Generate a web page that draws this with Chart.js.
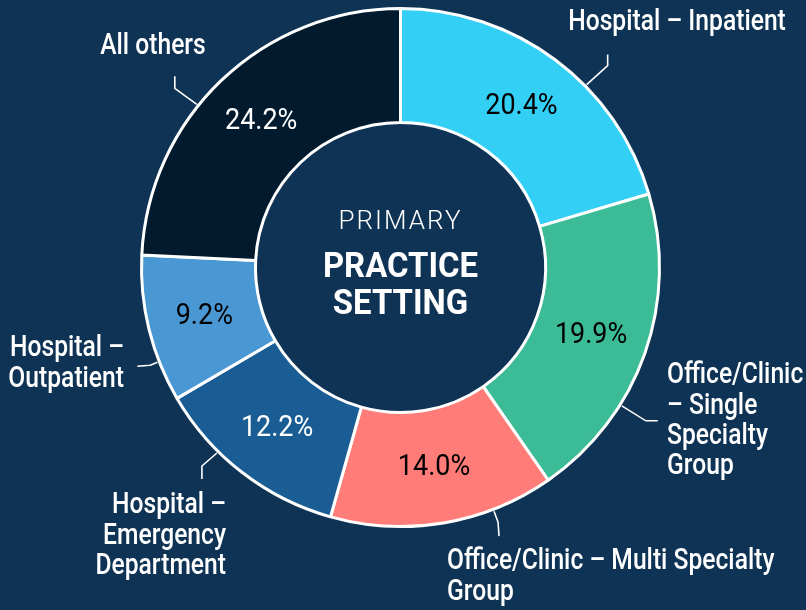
<!DOCTYPE html>
<html>
<head>
<meta charset="utf-8">
<script src="https://cdn.jsdelivr.net/npm/chart.js@4"></script>
<style>
  html, body { margin: 0; padding: 0; background: #0e3354; }
  #wrap { width: 806px; height: 610px; }
</style>
</head>
<body>
<div id="wrap"><canvas id="settingChart" width="806" height="610"></canvas></div>
<script>
// data
const categories = [
  'Hospital – Inpatient',
  'Office/Clinic – Single Specialty Group',
  'Office/Clinic – Multi Specialty Group',
  'Hospital – Emergency Department',
  'Hospital – Outpatient',
  'All others'
];
const shares = [20.4, 19.9, 14.0, 12.2, 9.2, 24.2];
const labelLines = [
  ['Hospital – Inpatient'],
  ['Office/Clinic', '– Single', 'Specialty', 'Group'],
  ['Office/Clinic – Multi Specialty', 'Group'],
  ['Hospital –', 'Emergency', 'Department'],
  ['Hospital –', 'Outpatient'],
  ['All others']
];
const sliceColors = ['#33cff5', '#3bbc96', '#ff7c79', '#1a5d95', '#4a98d3', '#021a2e'];
const valueColors = ['#000', '#000', '#000', '#fff', '#000', '#fff'];

// where each outside label sits (leader: start angle from top, then relative steps)
const callouts = [
  { angle: 45.5, steps: [[21, -19], [0, -11]], tx: 677, ty: 22, align: 'center' },
  { angle: 122, steps: [[24, 15], [12, 0]], tx: 667, ty: 375, align: 'left' },
  { angle: 159, steps: [[4, 11], [1, 14]], tx: 447, ty: 561, align: 'left' },
  { angle: 224.7, steps: [[-15, 13], [0, 13]], tx: 226, ty: 505, align: 'right' },
  { angle: 248.7, steps: [[-7, 3], [-13, 1]], tx: 124, ty: 348, align: 'right' },
  { angle: 308.7, steps: [[-22, -16], [0, -12]], tx: 153, ty: 46, align: 'center' }
];

// squeeze Roboto sideways to get the condensed look
function narrowText(ctx, text, x, y, align, sx) {
  ctx.save();
  ctx.translate(x, y);
  ctx.scale(sx, 1);
  ctx.textAlign = align;
  ctx.fillText(text, 0, 0);
  ctx.restore();
}

const labelPlugin = {
  id: 'labelPlugin',
  afterDatasetsDraw(chart) {
    const ctx = chart.ctx;
    const arcs = chart.getDatasetMeta(0).data;
    const cx = arcs[0].x, cy = arcs[0].y;
    const outer = arcs[0].outerRadius;
    ctx.save();
    ctx.textBaseline = 'middle';

    // percentages inside slices
    ctx.font = "29px 'Roboto', sans-serif";
    arcs.forEach((arc, i) => {
      const p = arc.getCenterPoint();
      ctx.fillStyle = valueColors[i];
      narrowText(ctx, shares[i].toFixed(1) + '%', p.x, p.y + 1, 'center', 0.93);
    });

    // leader lines + category labels
    ctx.strokeStyle = '#fff';
    ctx.lineWidth = 1.6;
    ctx.fillStyle = '#fff';
    ctx.font = "500 29px 'Roboto', sans-serif";
    callouts.forEach((c, i) => {
      const a = c.angle * Math.PI / 180;
      let x = cx + (outer + 2) * Math.sin(a);
      let y = cy - (outer + 2) * Math.cos(a);
      ctx.beginPath();
      ctx.moveTo(x, y);
      c.steps.forEach(s => { x += s[0]; y += s[1]; ctx.lineTo(x, y); });
      ctx.stroke();
      labelLines[i].forEach((line, j) => {
        narrowText(ctx, line, c.tx, c.ty + 1 + j * 30.3, c.align, 0.85);
      });
    });

    // centre title
    ctx.fillStyle = '#fff';
    ctx.font = "300 26px 'Roboto', sans-serif";
    ctx.letterSpacing = '2px';
    narrowText(ctx, 'PRIMARY', cx, cy - 45, 'center', 1);
    ctx.letterSpacing = '0px';
    ctx.font = "bold 35px 'Roboto', sans-serif";
    narrowText(ctx, 'PRACTICE', cx, cy + 1, 'center', 0.94);
    narrowText(ctx, 'SETTING', cx, cy + 38, 'center', 0.94);
    ctx.restore();
  }
};

new Chart(document.getElementById('settingChart'), {
  type: 'doughnut',
  data: {
    labels: categories,
    datasets: [{
      data: shares,
      backgroundColor: sliceColors,
      borderColor: '#ffffff',
      borderWidth: 3
    }]
  },
  options: {
    responsive: false,
    animation: false,
    cutout: '56%',
    layout: { padding: { left: 140, right: 145, top: 7, bottom: 82 } },
    plugins: {
      legend: { display: false },
      tooltip: { enabled: false }
    }
  },
  plugins: [labelPlugin]
});
</script>
</body>
</html>
